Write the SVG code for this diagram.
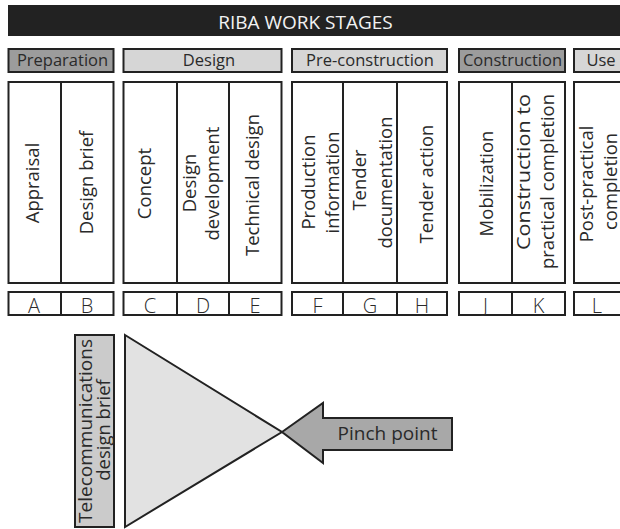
<svg xmlns="http://www.w3.org/2000/svg" width="620" height="529" viewBox="0 0 620 529">
  <style>
    .box { stroke: #222; stroke-width: 2; }
    .white { fill: #fff; }
    .light { fill: #d6d6d6; }
    .dark { fill: #9c9c9c; }
    .div { stroke: #222; stroke-width: 2; fill: none; }
    text { font-family: "Open Sans", "Noto Sans", "DejaVu Sans", sans-serif; fill: #2a2a2a; }
    .title { font-size: 19px; fill: #f2f2f2; text-anchor: middle; }
    .stage { font-size: 16.5px; text-anchor: middle; }
    .v { font-size: 18.5px; text-anchor: middle; }
    .letter { font-size: 20px; font-weight: 300; text-anchor: middle; }
    .pinch { font-size: 19px; text-anchor: middle; }
  </style>

  <rect width="620" height="529" fill="#fff"/>

  <!-- title bar -->
  <g id="title">
    <rect x="8" y="5" width="612" height="31" fill="#222"/>
    <text class="title" x="305.5" y="28.5">RIBA WORK STAGES</text>
  </g>

  <!-- stage headers -->
  <g id="stage-preparation">
    <rect class="box dark" x="8.5" y="49" width="105" height="23"/>
    <text class="stage" x="62.5" y="66">Preparation</text>
  </g>
  <g id="stage-design">
    <rect class="box light" x="123.5" y="49" width="158" height="23"/>
    <text class="stage" x="209" y="66">Design</text>
  </g>
  <g id="stage-preconstruction">
    <rect class="box light" x="292" y="49" width="155" height="23"/>
    <text class="stage" x="370" y="66">Pre-construction</text>
  </g>
  <g id="stage-construction">
    <rect class="box dark" x="459" y="49" width="106" height="23"/>
    <text class="stage" x="512.5" y="66">Construction</text>
  </g>
  <g id="stage-use">
    <rect class="box light" x="574" y="49" width="60" height="23"/>
    <text class="stage" x="601" y="66">Use</text>
  </g>

  <!-- work stage columns -->
  <g id="columns-preparation">
    <rect class="box white" x="8.5" y="82" width="105" height="201"/>
    <line class="div" x1="61" y1="82" x2="61" y2="283"/>
    <text class="v" transform="translate(39,183) rotate(-90)">Appraisal</text>
    <text class="v" transform="translate(93,182.5) rotate(-90)">Design brief</text>
  </g>
  <g id="columns-design">
    <rect class="box white" x="123.5" y="82" width="158" height="201"/>
    <line class="div" x1="177" y1="82" x2="177" y2="283"/>
    <line class="div" x1="229" y1="82" x2="229" y2="283"/>
    <text class="v" transform="translate(151,183.5) rotate(-90)">Concept</text>
    <text class="v" transform="translate(196,183) rotate(-90)">Design</text>
    <text class="v" transform="translate(219,183.5) rotate(-90)">development</text>
    <text class="v" transform="translate(259,185) rotate(-90)">Technical design</text>
  </g>
  <g id="columns-preconstruction">
    <rect class="box white" x="292" y="82" width="155" height="201"/>
    <line class="div" x1="343" y1="82" x2="343" y2="283"/>
    <line class="div" x1="397" y1="82" x2="397" y2="283"/>
    <text class="v" transform="translate(315,182) rotate(-90)">Production</text>
    <text class="v" transform="translate(339,182.5) rotate(-90)">information</text>
    <text class="v" transform="translate(366,180) rotate(-90)">Tender</text>
    <text class="v" transform="translate(392,182.5) rotate(-90)">documentation</text>
    <text class="v" transform="translate(433,184) rotate(-90)">Tender action</text>
  </g>
  <g id="columns-construction">
    <rect class="box white" x="459" y="82" width="106" height="201"/>
    <line class="div" x1="512" y1="82" x2="512" y2="283"/>
    <text class="v" transform="translate(493,183.5) rotate(-90)">Mobilization</text>
    <text class="v" transform="translate(530,172) rotate(-90)" textLength="156" lengthAdjust="spacingAndGlyphs">Construction to</text>
    <text class="v" transform="translate(554,181.5) rotate(-90)">practical completion</text>
  </g>
  <g id="columns-use">
    <rect class="box white" x="574" y="82" width="60" height="201"/>
    <text class="v" transform="translate(593,184) rotate(-90)">Post-practical</text>
    <text class="v" transform="translate(617,181.5) rotate(-90)">completion</text>
  </g>

  <!-- stage letters -->
  <g id="letters-preparation">
    <rect class="box white" x="8.5" y="292" width="105" height="23"/>
    <line class="div" x1="61" y1="292" x2="61" y2="315"/>
    <text class="letter" x="34" y="313">A</text>
    <text class="letter" x="87" y="313">B</text>
  </g>
  <g id="letters-design">
    <rect class="box white" x="123.5" y="292" width="158" height="23"/>
    <line class="div" x1="177" y1="292" x2="177" y2="315"/>
    <line class="div" x1="229" y1="292" x2="229" y2="315"/>
    <text class="letter" x="150" y="313">C</text>
    <text class="letter" x="203" y="313">D</text>
    <text class="letter" x="255" y="313">E</text>
  </g>
  <g id="letters-preconstruction">
    <rect class="box white" x="292" y="292" width="155" height="23"/>
    <line class="div" x1="343" y1="292" x2="343" y2="315"/>
    <line class="div" x1="397" y1="292" x2="397" y2="315"/>
    <text class="letter" x="317.5" y="313">F</text>
    <text class="letter" x="370" y="313">G</text>
    <text class="letter" x="422" y="313">H</text>
  </g>
  <g id="letters-construction">
    <rect class="box white" x="459" y="292" width="106" height="23"/>
    <line class="div" x1="512" y1="292" x2="512" y2="315"/>
    <text class="letter" x="485.5" y="313">J</text>
    <text class="letter" x="538.5" y="313">K</text>
  </g>
  <g id="letters-use">
    <rect class="box white" x="574" y="292" width="60" height="23"/>
    <text class="letter" x="597" y="313">L</text>
  </g>

  <!-- telecommunications brief -->
  <g id="telecom-brief">
    <rect class="box" x="75" y="335" width="39" height="192" fill="#cbcbcb"/>
    <text class="v" transform="translate(92,431) rotate(-90)" textLength="184" lengthAdjust="spacingAndGlyphs">Telecommunications</text>
    <text class="v" transform="translate(110,430) rotate(-90)">design brief</text>
  </g>

  <!-- funnel narrowing to the pinch point -->
  <g id="funnel">
    <polygon class="box" points="125,335 282,432 125,527" fill="#e2e2e2"/>
  </g>

  <g id="pinch-point">
    <polygon class="box" points="282,432 323,403 323,418 452,418 452,450 323,450 323,463" fill="#a8a8a8"/>
    <text class="pinch" x="387.5" y="440">Pinch point</text>
  </g>
</svg>
